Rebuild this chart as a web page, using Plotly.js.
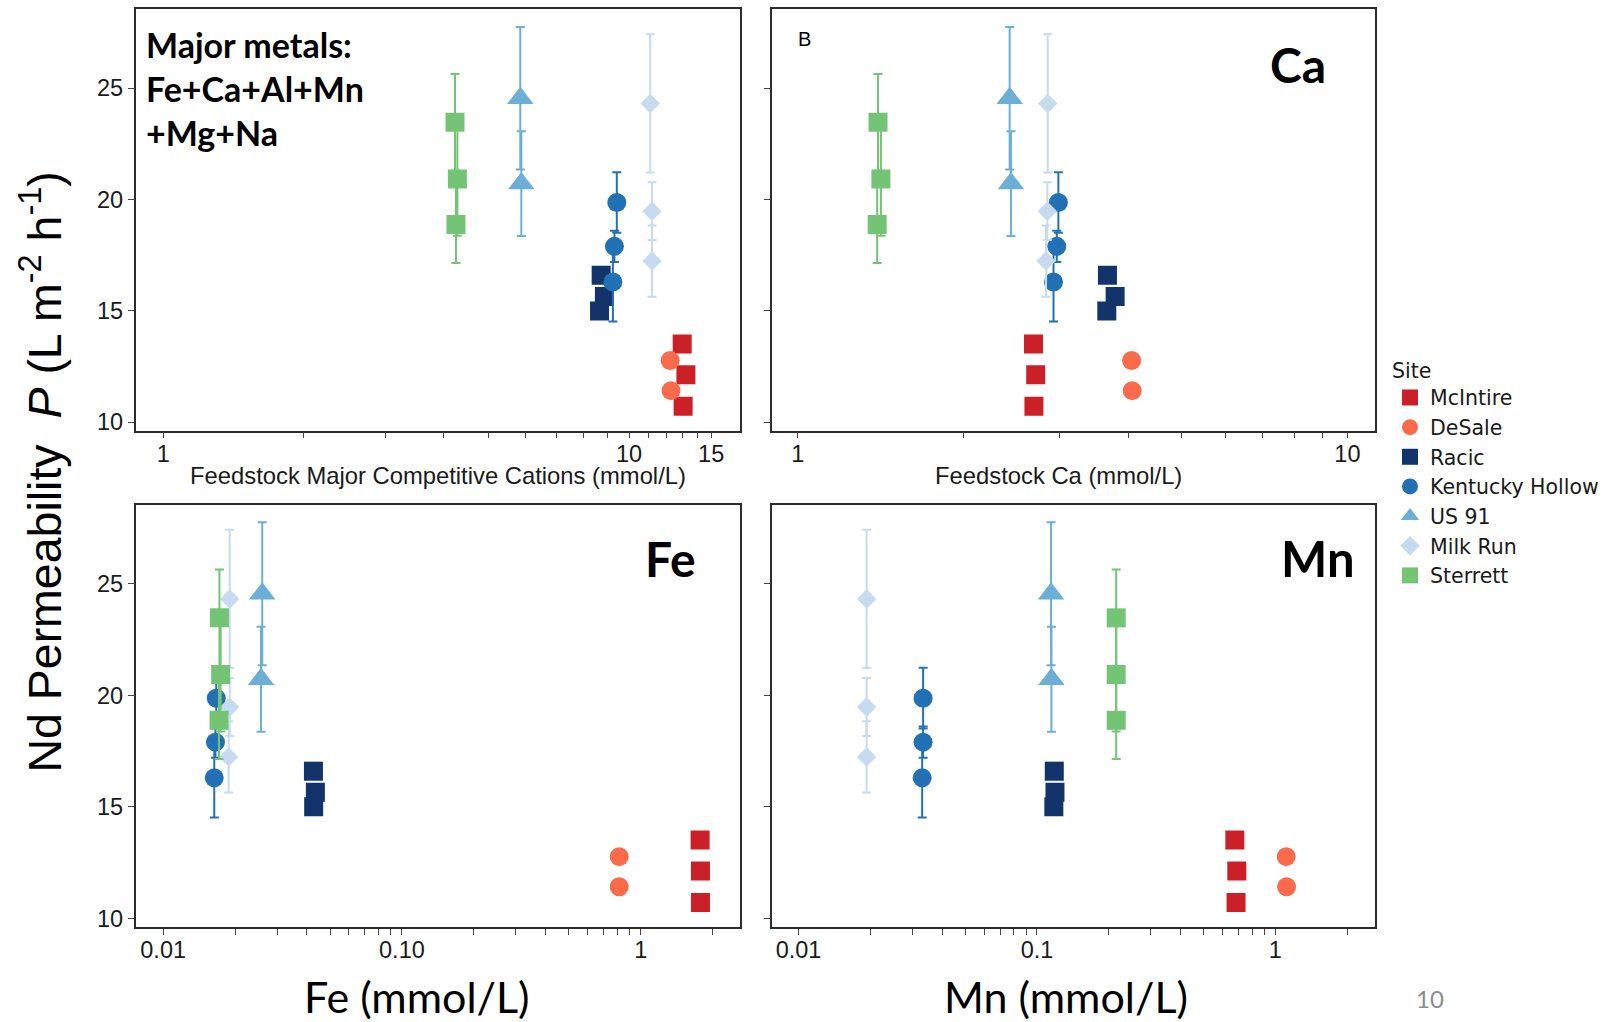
<!DOCTYPE html>
<html><head><meta charset="utf-8">
<script src="https://cdn.plot.ly/plotly-3.0.1.min.js"></script>
<style>html,body{margin:0;padding:0;background:#fff;} #chart{width:1611px;height:1022px;}</style>
</head><body><div id="chart"></div>
<script>
// ---- data ----
const sites = ["McIntire", "DeSale", "Racic", "Kentucky Hollow", "US 91", "Milk Run", "Sterrett"];

// Nd permeability P (L m-2 h-1), one list per site
const permeability = [
  [13.52, 12.13, 10.72],
  [12.77, 11.42],
  [16.60, 15.65, 15.00],
  [19.87, 17.90, 16.30],
  [24.55, 20.72],
  [24.32, 19.48, 17.24],
  [23.47, 20.93, 18.88]
];
// symmetric error on P (null = no visible error bar)
const permeabilityErr = [
  null,
  null,
  null,
  [1.36, 0.70, 1.78],
  [3.20, 2.35],
  [3.10, 1.30, 1.60],
  [2.17, 2.55, 1.73]
];
// feedstock major competitive cations (mmol/L)
const majorCations = [
  [13.00, 13.24, 13.06],
  [12.25, 12.30],
  [8.71, 8.85, 8.64],
  [9.41, 9.30, 9.23],
  [5.84, 5.87],
  [11.10, 11.20, 11.20],
  [4.23, 4.28, 4.25]
];
// feedstock Ca (mmol/L)
const feedCa = [
  [2.685, 2.71, 2.69],
  [4.05, 4.06],
  [3.66, 3.78, 3.65],
  [2.98, 2.96, 2.92],
  [2.43, 2.443],
  [2.85, 2.846, 2.83],
  [1.40, 1.417, 1.395]
];
// Fe (mmol/L)
const feedFe = [
  [1.774, 1.78, 1.78],
  [0.813, 0.813],
  [0.0426, 0.0434, 0.0427],
  [0.01669, 0.01656, 0.01637],
  [0.0260, 0.0257],
  [0.0190, 0.0190, 0.0188],
  [0.01721, 0.01741, 0.01714]
];
// Mn (mmol/L)
const feedMn = [
  [0.676, 0.689, 0.684],
  [1.11, 1.114],
  [0.1182, 0.1190, 0.1177],
  [0.0333, 0.0333, 0.0330],
  [0.1146, 0.1150],
  [0.0193, 0.0193, 0.0193],
  [0.2149, 0.2149, 0.2149]
];

// tick values / labels
const cationTicks = [1,2,3,4,5,6,7,8,9,10,11,12,13,14,15];
const cationTickLabels = ["1","","","","","","","","","10","","","","","15"];
const caTicks = [1,2,3,4,5,6,7,8,9,10];
const caTickLabels = ["1","","","","","","","","","10"];
const lowTicks = [0.01,0.02,0.03,0.04,0.05,0.06,0.07,0.08,0.09,0.1,0.2,0.3,0.4,0.5,0.6,0.7,0.8,0.9,1,2];
const feTickLabels = ["0.01","","","","","","","","","0.10","","","","","","","","","1",""];
const mnTickLabels = ["0.01","","","","","","","","","0.1","","","","","","","","","1",""];
const pTicks = [10, 15, 20, 25];

// ---- styles ----
const siteColors = ["#CB2027", "#FA6A4B", "#13336B", "#2271B5", "#6BAED6", "#C6DBEF", "#74C476"];
const siteSymbols = ["square", "circle", "square", "circle", "triangle-up", "diamond", "square"];
const siteSizes = [19, 19, 19, 19, 23, 15, 19];

const W = 1611, H = 1022;
const panels = [
  {xs: majorCations, xa: "x",  ya: "y"},
  {xs: feedCa,       xa: "x2", ya: "y2"},
  {xs: feedFe,       xa: "x3", ya: "y3"},
  {xs: feedMn,       xa: "x4", ya: "y4"}
];

const traces = [];
panels.forEach((p, pi) => {
  sites.forEach((s, i) => {
    const err = permeabilityErr[i];
    traces.push({
      type: "scatter", mode: "markers",
      name: s, legendgroup: s, showlegend: pi === 0,
      x: p.xs[i], y: permeability[i],
      xaxis: p.xa, yaxis: p.ya,
      marker: {color: siteColors[i], symbol: siteSymbols[i], size: siteSizes[i], line: {width: 0}},
      error_y: err ? {type: "data", array: err, visible: true, color: siteColors[i], thickness: 2, width: 4.5} : {visible: false},
      hoverinfo: "x+y+name"
    });
  });
});

const FONT = "Liberation Sans, Arial, sans-serif";
const CAL = "Lato, Liberation Sans, sans-serif";
const lineCol = "#2b2b2b";
function xAx(domain, anchor, range, tv, tt) {
  return {type: "log", domain: domain, anchor: anchor, range: range, tickmode: "array", tickvals: tv, ticktext: tt,
    ticks: "outside", ticklen: 6, tickwidth: 1.2, tickcolor: "#444", showline: true, mirror: true,
    linecolor: lineCol, linewidth: 1.6, showgrid: false, zeroline: false, ticklabelstandoff: -5,
    tickfont: {family: FONT, size: 23.5, color: "#1a1a1a"}, automargin: false};
}
function yAx(domain, anchor, labels) {
  return {domain: domain, anchor: anchor, range: [9.63, 28.55], tickmode: "array", tickvals: pTicks,
    ticks: "outside", ticklen: 6, tickwidth: 1.2, tickcolor: "#444", showline: true, mirror: true,
    linecolor: lineCol, linewidth: 1.6, showgrid: false, zeroline: false, showticklabels: labels,
    tickfont: {family: FONT, size: 23.5, color: "#1a1a1a"}, automargin: false};
}
const dxL = [135.7 / W, 740 / W], dxR = [771.6 / W, 1374.7 / W];
const dyT = [1 - 430.5 / H, 1 - 9.2 / H], dyB = [1 - 926.7 / H, 1 - 504.5 / H];

function ann(text, xpx, ypx, font, extra) {
  return Object.assign({text: text, xref: "paper", yref: "paper", x: xpx / W, y: 1 - ypx / H,
    showarrow: false, font: font, xanchor: "center", yanchor: "middle"}, extra || {});
}

const layout = {
  width: W, height: H,
  margin: {l: 0, r: 0, t: 0, b: 0},
  paper_bgcolor: "#fff", plot_bgcolor: "#fff",
  font: {family: FONT, color: "#1a1a1a"},
  xaxis:  xAx(dxL, "y",  [-0.059, 1.238], cationTicks, cationTickLabels),
  yaxis:  yAx(dyT, "x", true),
  xaxis2: xAx(dxR, "y2", [-0.0475, 1.0497], caTicks, caTickLabels),
  yaxis2: yAx(dyT, "x2", false),
  xaxis3: xAx(dxL, "y3", [-2.115, 0.416], lowTicks, feTickLabels),
  yaxis3: yAx(dyB, "x3", true),
  xaxis4: xAx(dxR, "y4", [-2.113, 0.4165], lowTicks, mnTickLabels),
  yaxis4: yAx(dyB, "x4", false),
  showlegend: true,
  legend: {x: 1390 / W, y: 1 - 351 / H, xanchor: "left", yanchor: "top",
    title: {text: "Site", font: {family: "DejaVu Sans, sans-serif", size: 20.5, color: "#1a1a1a"}},
    font: {family: "DejaVu Sans, sans-serif", size: 20.5, color: "#1a1a1a"}, bgcolor: "rgba(0,0,0,0)", tracegroupgap: 0, itemclick: false},
  annotations: [
    ann("Major metals:<br>Fe+Ca+Al+Mn<br>+Mg+Na", 144, 88.5, {family: CAL, size: 34, weight: 700, color: "#000"}, {xanchor: "left", align: "left"}),
    ann("B", 804.5, 39, {family: FONT, size: 20, color: "#000"}),
    ann("Ca", 1297.6, 64.7, {family: CAL, size: 48, weight: 700, color: "#000"}),
    ann("Fe", 670, 558, {family: CAL, size: 48, weight: 700, color: "#000"}),
    ann("Mn", 1318, 558, {family: CAL, size: 49, weight: 700, color: "#000"}),
    ann("Feedstock Major Competitive Cations (mmol/L)", 437.7, 475.7, {family: FONT, size: 23.8, color: "#1a1a1a"}),
    ann("Feedstock Ca (mmol/L)", 1058, 475.7, {family: FONT, size: 23.8, color: "#1a1a1a"}),
    ann("Fe (mmol/L)", 417, 996.6, {family: CAL, size: 43, color: "#000"}),
    ann("Mn (mmol/L)", 1065.6, 996.6, {family: CAL, size: 43, color: "#000"}),
    ann("Nd Permeability  <i>P</i> (L m<sup>-2</sup> h<sup>-1</sup>)", 42, 472.6, {family: FONT, size: 46.5, color: "#000"}, {textangle: -90}),
    ann("10", 1430, 998.6, {family: CAL, size: 24, color: "#8c8c8c"})
  ]
};

Plotly.newPlot("chart", traces, layout, {displayModeBar: false, responsive: false, staticPlot: false});
</script>
</body></html>
